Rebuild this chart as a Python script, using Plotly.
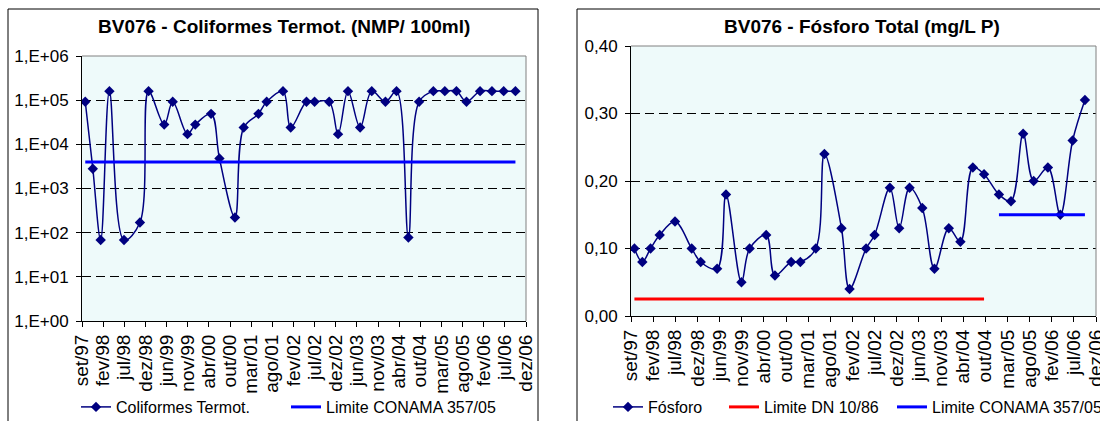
import plotly.graph_objects as go
import pandas as pd

# ---- data ----
dates = ["1997-09-26", "1997-11-23", "1998-01-22", "1998-03-30", "1998-07-20",
         "1998-11-19", "1999-01-24", "1999-05-24", "1999-07-28", "1999-11-18",
         "2000-01-17", "2000-05-17", "2000-07-20", "2000-11-16", "2001-01-22",
         "2001-05-15", "2001-07-17", "2001-11-19", "2002-01-17", "2002-05-18",
         "2002-07-19", "2002-11-08", "2003-01-15", "2003-04-01", "2003-07-03",
         "2003-09-30", "2004-01-13", "2004-04-07", "2004-07-07", "2004-09-27",
         "2005-01-14", "2005-04-12", "2005-07-10", "2005-09-25", "2006-01-07",
         "2006-04-08", "2006-07-07", "2006-10-05"]

coliformes = [92000, 2800, 68, 160000, 68, 170, 160000, 28000, 92000, 17000,
              28000, 49000, 4800, 220, 24000, 49000, 92000, 160000, 24000, 92000,
              92000, 92000, 17000, 160000, 24000, 160000, 92000, 160000, 78, 92000,
              160000, 160000, 160000, 92000, 160000, 160000, 160000, 160000]

fosforo = [0.10, 0.08, 0.10, 0.12, 0.14, 0.10, 0.08, 0.07, 0.18, 0.05,
           0.10, 0.12, 0.06, 0.08, 0.08, 0.10, 0.24, 0.13, 0.04, 0.10,
           0.12, 0.19, 0.13, 0.19, 0.16, 0.07, 0.13, 0.11, 0.22, 0.21,
           0.18, 0.17, 0.27, 0.20, 0.22, 0.15, 0.26, 0.32]

limite_conama_colif = [4000] * 38
limite_dn_fosforo = [0.025] * 30 + [None] * 8
limite_conama_fosforo = [None] * 30 + [0.15] * 8

x_ticktext = ["set/97", "fev/98", "jul/98", "dez/98", "jun/99", "nov/99", "abr/00",
              "out/00", "mar/01", "ago/01", "fev/02", "jul/02", "dez/02", "jun/03",
              "nov/03", "abr/04", "out/04", "mar/05", "ago/05", "fev/06", "jul/06",
              "dez/06"]
y1_tickvals = [1, 10, 100, 1000, 10000, 100000, 1000000]
y1_ticktext = ["1,E+00", "1,E+01", "1,E+02", "1,E+03", "1,E+04", "1,E+05", "1,E+06"]
y2_tickvals = [0.0, 0.1, 0.2, 0.3, 0.4]
y2_ticktext = ["0,00", "0,10", "0,20", "0,30", "0,40"]

x_ticks = pd.date_range("1997-09-01", periods=len(x_ticktext), freq="162D")
x_tickvals = [d.strftime("%Y-%m-%d") for d in x_ticks]

W, H = 1100, 421
FONT = "Liberation Sans, Arial, sans-serif"
NAVY = "#000080"
BG = "#EEFAFA"

fig = go.Figure()

fig.add_trace(go.Scatter(x=dates, y=coliformes, mode="lines+markers",
                         name="Coliformes Termot.", xaxis="x", yaxis="y",
                         line=dict(color=NAVY, width=1.5, shape="spline", smoothing=1),
                         marker=dict(symbol="diamond", size=8, color=NAVY),
                         legend="legend"))
fig.add_trace(go.Scatter(x=dates, y=limite_conama_colif, mode="lines",
                         name="Limite CONAMA 357/05", xaxis="x", yaxis="y",
                         line=dict(color="#0000FF", width=3), legend="legend2"))

fig.add_trace(go.Scatter(x=dates, y=fosforo, mode="lines+markers",
                         name="Fósforo", xaxis="x2", yaxis="y2",
                         line=dict(color=NAVY, width=1.5, shape="spline", smoothing=1),
                         marker=dict(symbol="diamond", size=8, color=NAVY),
                         legend="legend3"))
fig.add_trace(go.Scatter(x=dates, y=limite_dn_fosforo, mode="lines",
                         name="Limite DN 10/86", xaxis="x2", yaxis="y2",
                         line=dict(color="#FF0000", width=3), legend="legend4"))
fig.add_trace(go.Scatter(x=dates, y=limite_conama_fosforo, mode="lines",
                         name="Limite CONAMA 357/05", xaxis="x2", yaxis="y2",
                         line=dict(color="#0000FF", width=3), legend="legend5"))


def px_x(p):
    return p / W


def px_y(p):
    return 1 - p / H


common_x = dict(type="date", range=[x_tickvals[0], x_tickvals[-1]], automargin=False,
                tickmode="array", tickvals=x_tickvals, ticktext=x_ticktext,
                tickangle=-90, ticks="outside", ticklen=5, tickcolor="black",
                ticklabeloverflow="allow",
                showline=True, linecolor="black", linewidth=1, showgrid=False,
                zeroline=False, tickfont=dict(family=FONT, size=19, color="black"))
common_y = dict(ticks="outside", ticklen=5, tickcolor="black", showline=True,
                automargin=False, ticklabelstandoff=4,
                linecolor="black", linewidth=1, showgrid=True, gridcolor="black",
                griddash="9px,5px", gridwidth=1, zeroline=False,
                tickfont=dict(family=FONT, size=17, color="black"))

fig.update_layout(
    width=W, height=H, margin=dict(l=0, r=0, t=0, b=0, autoexpand=False),
    paper_bgcolor="white", plot_bgcolor=BG, showlegend=True,
    xaxis=dict(domain=[px_x(82), px_x(526)], anchor="y", **common_x),
    yaxis=dict(domain=[px_y(321), px_y(56)], anchor="x", type="log", range=[0, 6],
               tickmode="array", tickvals=y1_tickvals, ticktext=y1_ticktext, **common_y),
    xaxis2=dict(domain=[px_x(631), px_x(1096)], anchor="y2", **common_x),
    yaxis2=dict(domain=[px_y(316), px_y(46)], anchor="x2", range=[0, 0.4],
                tickmode="array", tickvals=y2_tickvals, ticktext=y2_ticktext, **common_y),
)

leg_font = dict(family=FONT, size=16, color="black")
legend_pos = {"legend": 115, "legend2": 325, "legend3": 647, "legend4": 763, "legend5": 931}
for name, tx in legend_pos.items():
    fig.update_layout({name: dict(x=px_x(tx - 39), y=px_y(407), xanchor="left",
                                  yanchor="middle", bgcolor="rgba(0,0,0,0)",
                                  font=leg_font, orientation="h", borderwidth=0)})

# titles
fig.add_annotation(text="<b>BV076 - Coliformes Termot. (NMP/ 100ml)</b>",
                   x=px_x(284), y=px_y(27), xref="paper", yref="paper",
                   xanchor="center", yanchor="middle",
                   showarrow=False, font=dict(family=FONT, size=19, color="black"))
fig.add_annotation(text="<b>BV076 - Fósforo Total (mg/L P)</b>",
                   x=px_x(862), y=px_y(27), xref="paper", yref="paper",
                   xanchor="center", yanchor="middle",
                   showarrow=False, font=dict(family=FONT, size=19, color="black"))

# plot-area borders (grey top/right) and chart-area frames
for (x0, x1, y0, y1) in [(82, 526, 321, 56), (631, 1096, 316, 46)]:
    fig.add_shape(type="line", xref="paper", yref="paper",
                  x0=px_x(x0), x1=px_x(x1), y0=px_y(y1), y1=px_y(y1),
                  line=dict(color="#808080", width=1))
    fig.add_shape(type="line", xref="paper", yref="paper",
                  x0=px_x(x1), x1=px_x(x1), y0=px_y(y0), y1=px_y(y1),
                  line=dict(color="#808080", width=1))
fig.add_shape(type="rect", xref="paper", yref="paper",
              x0=px_x(8), x1=px_x(538), y0=px_y(440), y1=px_y(9),
              line=dict(color="black", width=1))
fig.add_shape(type="rect", xref="paper", yref="paper",
              x0=px_x(577), x1=px_x(1120), y0=px_y(440), y1=px_y(9),
              line=dict(color="black", width=1))

fig.write_html("out.html", config={"displayModeBar": False},
               post_script="document.body.style.margin='0';")
